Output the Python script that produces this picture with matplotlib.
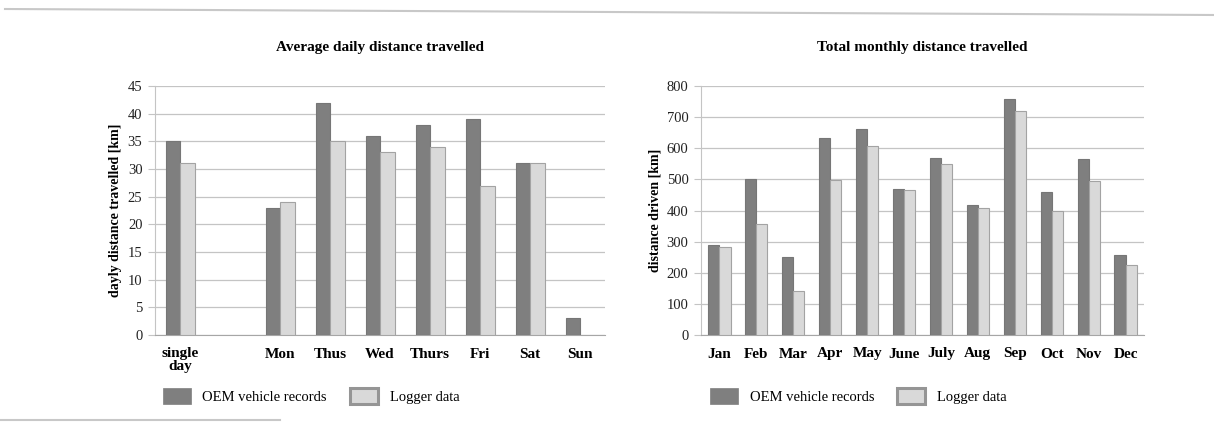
import matplotlib
matplotlib.use("Agg")
import matplotlib.pyplot as plt
import numpy as np
from matplotlib.patches import Patch
from matplotlib.lines import Line2D

plt.rcParams['font.family'] = ['Liberation Serif', 'DejaVu Serif']

# ---- data ----
day_labels = ["single\nday", "", "Mon", "Thus", "Wed", "Thurs", "Fri", "Sat", "Sun"]
day_oem = [35, np.nan, 23, 42, 36, 38, 39, 31, 3]
day_logger = [31, np.nan, 24, 35, 33, 34, 27, 31, np.nan]

month_labels = ["Jan", "Feb", "Mar", "Apr", "May", "June", "July", "Aug", "Sep", "Oct", "Nov", "Dec"]
month_oem = [290, 502, 249, 634, 662, 468, 570, 418, 757, 458, 567, 257]
month_logger = [282, 357, 141, 499, 608, 465, 550, 407, 721, 399, 496, 225]

series_names = ["OEM vehicle records", "Logger data"]

# ---- style ----
DARK = "#7f7f7f"
DARK_EDGE = "#767676"
LIGHT = "#d9d9d9"
LIGHT_EDGE = "#a3a3a3"
GRID = "#c4c4c4"

fig = plt.figure(figsize=(12.14, 4.22), dpi=100)
W, H = 1214, 422

def px_axes(x0, x1, ytop, ybot):
    return fig.add_axes([x0 / W, 1 - ybot / H, (x1 - x0) / W, (ybot - ytop) / H])

ax1 = px_axes(155, 605, 86, 335)
ax2 = px_axes(701, 1144, 86, 335)

def draw(ax, labels, a, b, bw, ymax, ystep, ylabel, title):
    x = np.arange(len(labels))
    ax.bar(x - bw / 2, a, width=bw, color=DARK, edgecolor=DARK_EDGE, linewidth=0.8, zorder=3)
    ax.bar(x + bw / 2, b, width=bw, color=LIGHT, edgecolor=LIGHT_EDGE, linewidth=0.8, zorder=3)
    ax.set_xlim(-0.5, len(labels) - 0.5)
    ax.set_ylim(0, ymax)
    ax.set_yticks(np.arange(0, ymax + 1, ystep))
    ax.yaxis.grid(True, color=GRID, linewidth=0.9, zorder=0)
    ax.set_axisbelow(True)
    for s in ["top", "right"]:
        ax.spines[s].set_visible(False)
    ax.spines["left"].set_color(GRID)
    ax.spines["bottom"].set_color("#a6a6a6")
    ax.tick_params(axis="y", length=5, color=GRID, labelsize=10.5, labelcolor="#222222", pad=4)
    ax.tick_params(axis="x", length=0, pad=9)
    ax.set_xticks(x)
    ax.set_xticklabels(labels, fontsize=11, fontweight="bold", linespacing=0.95)
    ax.set_ylabel(ylabel, fontsize=10, fontweight="bold", labelpad=4)
    ax.set_title(title, fontsize=11, fontweight="bold", pad=25)

draw(ax1, day_labels, day_oem, day_logger, 0.29, 45, 5,
     "dayly distance travelled [km]", "Average daily distance travelled")
draw(ax2, month_labels, month_oem, month_logger, 0.3, 800, 100,
     "distance driven [km]", "Total monthly distance travelled")

handles = [Patch(facecolor=DARK, edgecolor=DARK, linewidth=0.5),
           Patch(facecolor=LIGHT, edgecolor="#959595", linewidth=2.2)]
for ax, x0 in [(ax1, 150), (ax2, 697)]:
    fig.legend(handles, series_names, loc="center left",
               bbox_to_anchor=(x0 / W, 1 - 396 / H), ncol=2, frameon=False,
               fontsize=10.5, handlelength=1.9, handleheight=1.3,
               handletextpad=0.8, columnspacing=1.6)

# decorative separator lines
fig.add_artist(Line2D([5 / W, 1.0], [1 - 9 / H, 1 - 15 / H], color="#c8c8c8", linewidth=1.5))
fig.add_artist(Line2D([0.0, 280 / W], [1 - 420 / H, 1 - 420 / H], color="#c8c8c8", linewidth=1.5))

fig.savefig("out.png", dpi=100, facecolor="white")
